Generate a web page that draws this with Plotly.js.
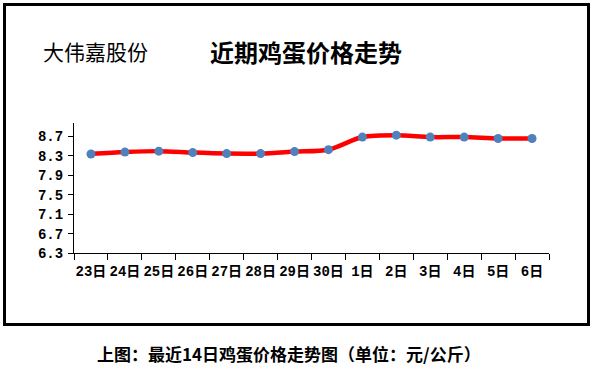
<!DOCTYPE html>
<html>
<head>
<meta charset="utf-8">
<script src="https://cdn.plot.ly/plotly-3.0.1.min.js"></script>
<style>html,body{margin:0;padding:0;background:#fff;}#chart{width:594px;height:365px;}</style>
</head>
<body>
<div id="chart"></div>
<script>
const categories = ["23日","24日","25日","26日","27日","28日","29日","30日","1日","2日","3日","4日","5日","6日"];
const prices = [8.34, 8.38, 8.40, 8.37, 8.35, 8.35, 8.39, 8.43, 8.69, 8.73, 8.69, 8.69, 8.66, 8.66];
const yTicks = [6.3, 6.7, 7.1, 7.5, 7.9, 8.3, 8.7];
const yTickText = ["6.3", "6.7", "7.1", "7.5", "7.9", "8.3", "8.7"];

const W = 594, H = 365;
const L = 74, R = 45, T = 123, B = 112;
const pw = W - L - R, ph = H - T - B;
const px = x => (x - L) / pw;
const py = y => (H - B - y) / ph;

const monoCJK = "'Liberation Mono', 'Noto Sans CJK SC', monospace";
const cjk = "'Noto Sans CJK SC', sans-serif";

const trace = {
  type: 'scatter',
  mode: 'lines+markers',
  x: categories,
  y: prices,
  line: {color: '#ff0000', width: 4.5, shape: 'spline', smoothing: 0.8},
  marker: {color: '#4f81bd', size: 9},
  hoverinfo: 'skip'
};

const layout = {
  width: W, height: H,
  margin: {l: L, r: R, t: T, b: B, pad: 0},
  paper_bgcolor: '#fff', plot_bgcolor: '#fff',
  showlegend: false,
  xaxis: {
    type: 'category',
    range: [-0.5, categories.length - 0.5],
    showgrid: false, zeroline: false,
    showline: true, linecolor: '#000', linewidth: 1,
    ticks: 'outside', ticklen: 6, tickcolor: '#000', tickwidth: 1,
    tickson: 'boundaries', tickangle: 0, ticklabelstandoff: 5,
    tickfont: {family: monoCJK, size: 14, color: '#000', weight: 'bold'},
    fixedrange: true
  },
  yaxis: {
    range: [6.3, 8.98],
    tickvals: yTicks, ticktext: yTickText,
    showgrid: false, zeroline: false,
    showline: true, linecolor: '#000', linewidth: 1,
    ticks: 'outside', ticklen: 5, tickcolor: '#000', tickwidth: 1,
    ticklabelstandoff: 2,
    tickfont: {family: monoCJK, size: 14, color: '#000', weight: 'bold'},
    fixedrange: true
  },
  shapes: [{
    type: 'rect', xref: 'paper', yref: 'paper',
    x0: px(4.5), x1: px(588.5), y0: py(324.5), y1: py(4.5),
    line: {color: '#000', width: 3}, fillcolor: 'rgba(0,0,0,0)', layer: 'below'
  }],
  annotations: [
    {text: '大伟嘉股份', xref: 'paper', yref: 'paper', x: px(95), y: py(51),
     xanchor: 'center', yanchor: 'middle', showarrow: false,
     font: {family: cjk, size: 21, color: '#000'}},
    {text: '近期鸡蛋价格走势', xref: 'paper', yref: 'paper', x: px(306), y: py(52),
     xanchor: 'center', yanchor: 'middle', showarrow: false,
     font: {family: cjk, size: 24, color: '#000', weight: 'bold'}},
    {text: '上图：最近14日鸡蛋价格走势图（单位：元/公斤）', xref: 'paper', yref: 'paper', x: px(289), y: py(353),
     xanchor: 'center', yanchor: 'middle', showarrow: false,
     font: {family: cjk, size: 17, color: '#000', weight: 'bold'}}
  ]
};

Plotly.newPlot('chart', [trace], layout, {displayModeBar: false, staticPlot: true});
</script>
</body>
</html>
